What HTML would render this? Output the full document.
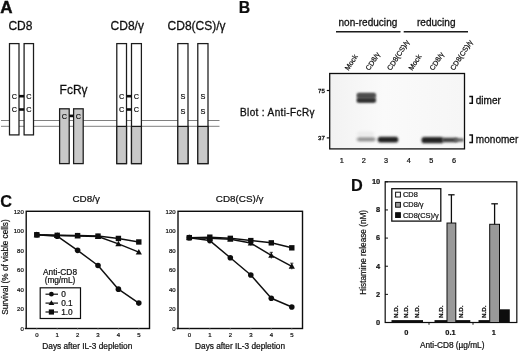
<!DOCTYPE html>
<html lang="en">
<head>
<meta charset="utf-8">
<title>Figure</title>
<style>
html,body{margin:0;padding:0;background:#fff;}
body{width:520px;height:352px;overflow:hidden;}
svg{display:block;font-family:"Liberation Sans",sans-serif;}
text{fill:#111;stroke:#111;stroke-width:0.22px;}
.lbl{font-weight:bold;font-size:16.3px;stroke-width:0.2px;}
.t12{font-size:12px;stroke-width:0.28px;}
.t10{font-size:10px;stroke-width:0.3px;}
.t93{font-size:9.9px;}
.t83{font-size:8.3px;}
.c8{font-size:7.3px;}
.rot{font-size:7.2px;stroke-width:0.38px;}
.ln{font-size:7.3px;stroke-width:0.32px;}
.ax{font-size:6px;stroke-width:0.3px;}
.mw{font-size:6.1px;stroke-width:0.3px;}
.axd{font-size:7.4px;font-weight:bold;}
.lg{font-size:8.3px;}
.ld{font-size:7.4px;}
.nd{font-size:6.2px;font-weight:bold;stroke-width:0.15px;}
.mid{text-anchor:middle;}
.end{text-anchor:end;}
</style>
</head>
<body>
<svg width="520" height="352" viewBox="0 0 520 352">
<defs>
  <filter id="b1" x="-20%" y="-80%" width="140%" height="260%"><feGaussianBlur stdDeviation="1.3 1.0"/></filter>
  <filter id="b2" x="-20%" y="-80%" width="140%" height="260%"><feGaussianBlur stdDeviation="1.6 1.3"/></filter>
  <filter id="soft" x="0" y="0" width="100%" height="100%"><feGaussianBlur stdDeviation="0.38"/></filter>
  <clipPath id="blotclip"><rect x="330" y="74" width="134" height="74.5"/></clipPath>
  <linearGradient id="blotbg" x1="0" y1="0" x2="1" y2="0">
    <stop offset="0" stop-color="#f2f2f2"/><stop offset="0.4" stop-color="#fafafa"/><stop offset="1" stop-color="#f6f6f6"/>
  </linearGradient>
</defs>
<rect x="0" y="0" width="520" height="352" fill="#fff"/>
<g filter="url(#soft)">

<g id="panelA">
<text class="lbl" x="0.3" y="12.5" style="font-size:17px;stroke-width:0.45px">A</text>
<text class="t12" x="8.4" y="29.7">CD8</text>
<text class="t12" x="110.6" y="29.7">CD8/γ</text>
<text class="t12" x="167.6" y="29.7">CD8(CS)/γ</text>
<text class="t12" x="59.6" y="94.3">FcRγ</text>
<line x1="1" y1="120.5" x2="219.5" y2="120.5" stroke="#808080" stroke-width="1"/>
<line x1="1" y1="126.3" x2="219.5" y2="126.3" stroke="#808080" stroke-width="1"/>
<rect x="9.5" y="43.6" width="9.5" height="91.3" fill="#fff" stroke="#1a1a1a" stroke-width="1.25"/>
<rect x="24.1" y="43.6" width="9.4" height="91.3" fill="#fff" stroke="#1a1a1a" stroke-width="1.25"/>
<rect x="59.6" y="108.8" width="9.6" height="54.8" fill="#c8c8c8" stroke="#1a1a1a" stroke-width="1.25"/>
<rect x="73.6" y="108.8" width="9.6" height="54.8" fill="#c8c8c8" stroke="#1a1a1a" stroke-width="1.25"/>
<rect x="116.8" y="43.6" width="9.7" height="120" fill="#fff" stroke="#1a1a1a" stroke-width="1.25"/>
<rect x="116.8" y="126.4" width="9.7" height="37.2" fill="#c8c8c8" stroke="#1a1a1a" stroke-width="1.25"/>
<rect x="131.5" y="43.6" width="9.9" height="120" fill="#fff" stroke="#1a1a1a" stroke-width="1.25"/>
<rect x="131.5" y="126.4" width="9.9" height="37.2" fill="#c8c8c8" stroke="#1a1a1a" stroke-width="1.25"/>
<rect x="177.8" y="43.6" width="10.2" height="120" fill="#fff" stroke="#1a1a1a" stroke-width="1.25"/>
<rect x="177.8" y="126.4" width="10.2" height="37.2" fill="#c8c8c8" stroke="#1a1a1a" stroke-width="1.25"/>
<rect x="197.8" y="43.6" width="10.2" height="120" fill="#fff" stroke="#1a1a1a" stroke-width="1.25"/>
<rect x="197.8" y="126.4" width="10.2" height="37.2" fill="#c8c8c8" stroke="#1a1a1a" stroke-width="1.25"/>
<g fill="#111">
<rect x="19" y="94.9" width="5.1" height="2.6"/>
<rect x="19" y="108.2" width="5.1" height="2.6"/>
<rect x="69.2" y="114.6" width="4.4" height="2.6"/>
<rect x="126.5" y="94.9" width="5" height="2.6"/>
<rect x="126.5" y="108.2" width="5" height="2.6"/>
</g>
<g class="c8 mid">
<text x="14.3" y="98.9">C</text>
<text x="28.8" y="98.9">C</text>
<text x="14.3" y="112.2">C</text>
<text x="28.8" y="112.2">C</text>
<text x="64.5" y="118.6">C</text>
<text x="78.5" y="118.6">C</text>
<text x="121.7" y="98.9">C</text>
<text x="136.5" y="98.9">C</text>
<text x="121.7" y="112.2">C</text>
<text x="136.5" y="112.2">C</text>
<text x="182.9" y="99.3">S</text>
<text x="202.9" y="99.3">S</text>
<text x="182.9" y="113.5">S</text>
<text x="202.9" y="113.5">S</text>
</g>
</g>
<g id="panelB">
<text class="lbl" x="238.8" y="12.5" style="font-size:15.8px">B</text>
<text class="t10" x="338.5" y="26.2" textLength="58.8">non-reducing</text>
<text class="t10" x="417" y="26.2" textLength="38.5">reducing</text>
<line x1="336" y1="31.8" x2="400.5" y2="31.8" stroke="#1a1a1a" stroke-width="1.4"/>
<line x1="403.7" y1="31.8" x2="468" y2="31.8" stroke="#1a1a1a" stroke-width="1.4"/>
<g class="rot">
<text transform="translate(348.5,71) rotate(-57)">Mock</text>
<text transform="translate(369.3,71) rotate(-57)">CD8/γ</text>
<text transform="translate(390.8,71) rotate(-57)">CD8(CS)/γ</text>
<text transform="translate(412.3,71) rotate(-57)">Mock</text>
<text transform="translate(433.3,71) rotate(-57)">CD8/γ</text>
<text transform="translate(454,71) rotate(-57)">CD8(CS)/γ</text>
</g>
<text class="t10" x="240" y="116" textLength="74.5">Blot : Anti-FcRγ</text>
<rect x="329.7" y="73.5" width="134.8" height="75.4" fill="url(#blotbg)" stroke="#111" stroke-width="1.3"/>
<text class="mw end" x="324.8" y="92.6">75</text>
<text class="mw end" x="324.8" y="139.5">37</text>
<line x1="326.8" y1="90.5" x2="329.5" y2="90.5" stroke="#111" stroke-width="1.2"/>
<line x1="326.8" y1="137.9" x2="329.5" y2="137.9" stroke="#111" stroke-width="1.2"/>
<g clip-path="url(#blotclip)">
<rect x="357" y="93" width="18.6" height="9.6" rx="1.5" fill="#666" filter="url(#b1)"/>
<rect x="357" y="93.6" width="18.6" height="3.4" rx="1.5" fill="#4a4a4a" filter="url(#b1)"/>
<rect x="357" y="98.6" width="18.6" height="3.6" rx="1.5" fill="#2a2a2a" filter="url(#b1)"/>
<rect x="357" y="131.5" width="17" height="5" rx="2" fill="#ebebeb" filter="url(#b2)"/>
<rect x="357" y="137.2" width="18.5" height="4.2" rx="2" fill="#959595" filter="url(#b2)"/>
<rect x="377.8" y="136.8" width="20.4" height="5.6" rx="2.5" fill="#222" filter="url(#b1)"/>
<rect x="421.5" y="136.9" width="22" height="6.3" rx="2.8" fill="#222" filter="url(#b1)"/>
<rect x="442" y="137.7" width="16" height="4.6" rx="2" fill="#404040" filter="url(#b1)"/>
<rect x="454" y="138.2" width="10" height="3.6" rx="1.7" fill="#666" filter="url(#b1)"/>
</g>
<g class="ln mid">
<text x="341.8" y="162.5">1</text>
<text x="363.8" y="162.5">2</text>
<text x="386.1" y="162.5">3</text>
<text x="408.8" y="162.5">4</text>
<text x="431.3" y="162.5">5</text>
<text x="454" y="162.5">6</text>
</g>
<path d="M469.3 96.4 h3 v6.9 h-3" fill="none" stroke="#111" stroke-width="1.5"/>
<path d="M469.3 135.1 h3 v7.4 h-3" fill="none" stroke="#111" stroke-width="1.5"/>
<text class="t10" x="475.8" y="104" textLength="25">dimer</text>
<text class="t10" x="475.8" y="143" textLength="42.5">monomer</text>
</g>
<g id="panelC">
<text class="lbl" x="0.2" y="207.3">C</text>
<text class="t93 mid" x="86.2" y="202.4">CD8/γ</text>
<text class="t93 mid" x="239.7" y="202.4">CD8(CS)/γ</text>
<text class="t83 mid" transform="translate(7.7,267) rotate(-90)" textLength="95.5">Survival (% of viable cells)</text>
<rect x="26.2" y="211.3" width="123.3" height="117.2" fill="#fff" stroke="#111" stroke-width="1.4"/>
<g class="ax end">
<text x="23.8" y="330.7">0</text>
<text x="23.8" y="311.17">20</text>
<text x="23.8" y="291.63">40</text>
<text x="23.8" y="272.1">60</text>
<text x="23.8" y="252.57">80</text>
<text x="23.8" y="233.03">100</text>
<text x="23.8" y="213.5">120</text>
</g>
<g stroke="#111" stroke-width="0.9">
<line x1="24.8" y1="328.5" x2="26.2" y2="328.5" stroke-width="1.3"/>
<line x1="36.8" y1="328.5" x2="36.8" y2="329.8" stroke="#999"/>
<line x1="57.2" y1="328.5" x2="57.2" y2="329.8" stroke="#999"/>
<line x1="77.6" y1="328.5" x2="77.6" y2="329.8" stroke="#999"/>
<line x1="98" y1="328.5" x2="98" y2="329.8" stroke="#999"/>
<line x1="118.4" y1="328.5" x2="118.4" y2="329.8" stroke="#999"/>
<line x1="138.8" y1="328.5" x2="138.8" y2="329.8" stroke="#999"/>
</g>
<g class="ax mid">
<text x="36.8" y="337.2">0</text>
<text x="57.2" y="337.2">1</text>
<text x="77.6" y="337.2">2</text>
<text x="98" y="337.2">3</text>
<text x="118.4" y="337.2">4</text>
<text x="138.8" y="337.2">5</text>
</g>
<text class="t83 mid" x="87.3" y="349" textLength="90">Days after IL-3 depletion</text>
<g fill="none" stroke="#111" stroke-width="1.5" stroke-linejoin="round">
<polyline points="36.8,234.74 57.2,236.2 77.6,250.37 98,265.5 118.4,289.14 138.8,303.11"/>
<polyline points="36.8,234.74 57.2,235.52 77.6,235.91 98,236.5 118.4,243.92 138.8,252.12"/>
<polyline points="36.8,234.74 57.2,235.33 77.6,235.62 98,236.11 118.4,238.45 138.8,241.97"/>
</g>
<g stroke="#111" stroke-width="0.8">
</g>
<g fill="#111">
<circle cx="36.8" cy="234.74" r="2.8"/>
<circle cx="57.2" cy="236.2" r="2.8"/>
<circle cx="77.6" cy="250.37" r="2.8"/>
<circle cx="98" cy="265.5" r="2.8"/>
<circle cx="118.4" cy="289.14" r="2.8"/>
<circle cx="138.8" cy="303.11" r="2.8"/>
<path d="M36.8 231.54 l3.1 5.6 h-6.2z"/>
<path d="M57.2 232.32 l3.1 5.6 h-6.2z"/>
<path d="M77.6 232.71 l3.1 5.6 h-6.2z"/>
<path d="M98 233.3 l3.1 5.6 h-6.2z"/>
<path d="M118.4 240.72 l3.1 5.6 h-6.2z"/>
<path d="M138.8 248.92 l3.1 5.6 h-6.2z"/>
<rect x="34.1" y="232.04" width="5.4" height="5.4"/>
<rect x="54.5" y="232.63" width="5.4" height="5.4"/>
<rect x="74.9" y="232.92" width="5.4" height="5.4"/>
<rect x="95.3" y="233.41" width="5.4" height="5.4"/>
<rect x="115.7" y="235.75" width="5.4" height="5.4"/>
<rect x="136.1" y="239.27" width="5.4" height="5.4"/>
</g>
<text class="t83 mid" x="60" y="275.3" textLength="34">Anti-CD8</text>
<text class="t83 mid" x="60" y="283.2" textLength="30.5">(mg/mL)</text>
<rect x="40.2" y="287.8" width="40.3" height="30.7" fill="#fff" stroke="#111" stroke-width="1.2"/>
<g stroke="#111" stroke-width="1.2">
<line x1="45.5" y1="294.2" x2="58" y2="294.2"/>
<line x1="45.5" y1="303.1" x2="58" y2="303.1"/>
<line x1="45.5" y1="312" x2="58" y2="312"/>
</g>
<circle cx="51.4" cy="294.2" r="2.4" fill="#111"/>
<path d="M51.4 300.3 l2.9 4.8 h-5.8z" fill="#111"/>
<rect x="48.8" y="309.4" width="5.2" height="5.2" fill="#111"/>
<g class="lg">
<text x="61.2" y="296.9">0</text>
<text x="61.2" y="305.9">0.1</text>
<text x="61.2" y="314.7">1.0</text>
</g>
<rect x="178" y="211.3" width="124.5" height="117.2" fill="#fff" stroke="#111" stroke-width="1.4"/>
<g class="ax end">
<text x="175.6" y="330.7">0</text>
<text x="175.6" y="311.17">20</text>
<text x="175.6" y="291.63">40</text>
<text x="175.6" y="272.1">60</text>
<text x="175.6" y="252.57">80</text>
<text x="175.6" y="233.03">100</text>
<text x="175.6" y="213.5">120</text>
</g>
<g stroke="#111" stroke-width="0.9">
<line x1="176.6" y1="328.5" x2="178" y2="328.5" stroke-width="1.3"/>
<line x1="189.3" y1="328.5" x2="189.3" y2="329.8" stroke="#999"/>
<line x1="209.8" y1="328.5" x2="209.8" y2="329.8" stroke="#999"/>
<line x1="230.3" y1="328.5" x2="230.3" y2="329.8" stroke="#999"/>
<line x1="250.8" y1="328.5" x2="250.8" y2="329.8" stroke="#999"/>
<line x1="271.3" y1="328.5" x2="271.3" y2="329.8" stroke="#999"/>
<line x1="291.8" y1="328.5" x2="291.8" y2="329.8" stroke="#999"/>
</g>
<g class="ax mid">
<text x="189.3" y="337.2">0</text>
<text x="209.8" y="337.2">1</text>
<text x="230.3" y="337.2">2</text>
<text x="250.8" y="337.2">3</text>
<text x="271.3" y="337.2">4</text>
<text x="291.8" y="337.2">5</text>
</g>
<text class="t83 mid" x="240.05" y="349" textLength="90">Days after IL-3 depletion</text>
<g fill="none" stroke="#111" stroke-width="1.5" stroke-linejoin="round">
<polyline points="189.3,237.67 209.8,240.6 230.3,257.79 250.8,274.98 271.3,298.22 291.8,307.01"/>
<polyline points="189.3,237.67 209.8,238.26 230.3,239.33 250.8,243.04 271.3,255.45 291.8,266.29"/>
<polyline points="189.3,237.67 209.8,237.18 230.3,238.35 250.8,240.6 271.3,242.85 291.8,247.83"/>
</g>
<g stroke="#111" stroke-width="0.8">
<line x1="271.3" y1="252.32" x2="271.3" y2="258.57"/>
<line x1="269.7" y1="252.32" x2="272.9" y2="252.32"/>
<line x1="291.8" y1="263.16" x2="291.8" y2="269.41"/>
<line x1="290.2" y1="263.16" x2="293.4" y2="263.16"/>
<line x1="250.8" y1="240.5" x2="250.8" y2="245.58"/>
<line x1="249.2" y1="240.5" x2="252.4" y2="240.5"/>
</g>
<g fill="#111">
<circle cx="189.3" cy="237.67" r="2.8"/>
<circle cx="209.8" cy="240.6" r="2.8"/>
<circle cx="230.3" cy="257.79" r="2.8"/>
<circle cx="250.8" cy="274.98" r="2.8"/>
<circle cx="271.3" cy="298.22" r="2.8"/>
<circle cx="291.8" cy="307.01" r="2.8"/>
<path d="M189.3 234.47 l3.1 5.6 h-6.2z"/>
<path d="M209.8 235.06 l3.1 5.6 h-6.2z"/>
<path d="M230.3 236.13 l3.1 5.6 h-6.2z"/>
<path d="M250.8 239.84 l3.1 5.6 h-6.2z"/>
<path d="M271.3 252.25 l3.1 5.6 h-6.2z"/>
<path d="M291.8 263.09 l3.1 5.6 h-6.2z"/>
<rect x="186.6" y="234.97" width="5.4" height="5.4"/>
<rect x="207.1" y="234.48" width="5.4" height="5.4"/>
<rect x="227.6" y="235.65" width="5.4" height="5.4"/>
<rect x="248.1" y="237.9" width="5.4" height="5.4"/>
<rect x="268.6" y="240.15" width="5.4" height="5.4"/>
<rect x="289.1" y="245.13" width="5.4" height="5.4"/>
</g>
</g>
<g id="panelD">
<text class="lbl" x="350.9" y="190.7">D</text>
<rect x="385.2" y="181.8" width="131.6" height="140.7" fill="#fff" stroke="#111" stroke-width="1.2"/>
<g class="axd end">
<text x="380.2" y="324.9">0</text>
<text x="380.2" y="296.76">2</text>
<text x="380.2" y="268.62">4</text>
<text x="380.2" y="240.48">6</text>
<text x="380.2" y="212.34">8</text>
<text x="380.2" y="184.2">10</text>
</g>
<g stroke="#111" stroke-width="1">
<line x1="385" y1="322.5" x2="388" y2="322.5"/>
<line x1="385" y1="294.36" x2="388" y2="294.36"/>
<line x1="385" y1="266.22" x2="388" y2="266.22"/>
<line x1="385" y1="238.08" x2="388" y2="238.08"/>
<line x1="385" y1="209.94" x2="388" y2="209.94"/>
<line x1="385" y1="181.8" x2="388" y2="181.8"/>
<line x1="429" y1="322.5" x2="429" y2="324.7"/>
<line x1="473" y1="322.5" x2="473" y2="324.7"/>
</g>
<text class="t83 mid" transform="translate(366,252.3) rotate(-90)" textLength="84.8">Histamine release (nM)</text>
<rect x="391.8" y="188.7" width="49" height="32.4" fill="#fff" stroke="#111" stroke-width="1.3"/>
<rect x="395.6" y="192.2" width="4.8" height="4.8" fill="#fff" stroke="#111" stroke-width="1"/>
<rect x="395.6" y="202.4" width="4.8" height="4.8" fill="#999" stroke="#111" stroke-width="1"/>
<rect x="395.6" y="212.7" width="4.8" height="4.8" fill="#111" stroke="#111" stroke-width="1"/>
<g class="ld">
<text x="403" y="197">CD8</text>
<text x="403" y="207.2">CD8/γ</text>
<text x="403" y="217.6">CD8(CS)/γ</text>
</g>
<rect x="447" y="223.03" width="8.8" height="99.47" fill="#999" stroke="#111" stroke-width="1"/>
<rect x="489.7" y="224.29" width="9.8" height="98.21" fill="#999" stroke="#111" stroke-width="1"/>
<rect x="499.5" y="309.3" width="10.3" height="13.2" fill="#111"/>
<g stroke="#111" stroke-width="1.3">
<line x1="451.4" y1="194.8" x2="451.4" y2="223.03"/><line x1="448.2" y1="194.8" x2="454.6" y2="194.8"/>
<line x1="494.6" y1="203.8" x2="494.6" y2="224.29"/><line x1="491.3" y1="203.8" x2="497.9" y2="203.8"/>
</g>
<g fill="#111">
<rect x="391.5" y="320.1" width="31.5" height="2.4"/>
<rect x="434.5" y="320.1" width="12.5" height="2.4"/>
<rect x="455.8" y="320.1" width="14.5" height="2.4"/>
<rect x="478.5" y="320.1" width="11.2" height="2.4"/>
</g>
<g class="nd">
<text transform="translate(398.4,318) rotate(-90)">N.D.</text>
<text transform="translate(408.3,318) rotate(-90)">N.D.</text>
<text transform="translate(418.6,318) rotate(-90)">N.D.</text>
<text transform="translate(442.8,318) rotate(-90)">N.D.</text>
<text transform="translate(463.1,318) rotate(-90)">N.D.</text>
<text transform="translate(486,318) rotate(-90)">N.D.</text>
</g>
<g class="axd mid">
<text x="406.3" y="335.4">0</text>
<text x="450.5" y="335.4">0.1</text>
<text x="493.8" y="335.4">1</text>
</g>
<text class="t83 mid" x="452.2" y="348.4" textLength="64.5">Anti-CD8 (µg/mL)</text>
</g>
</g>
</svg>
</body>
</html>
